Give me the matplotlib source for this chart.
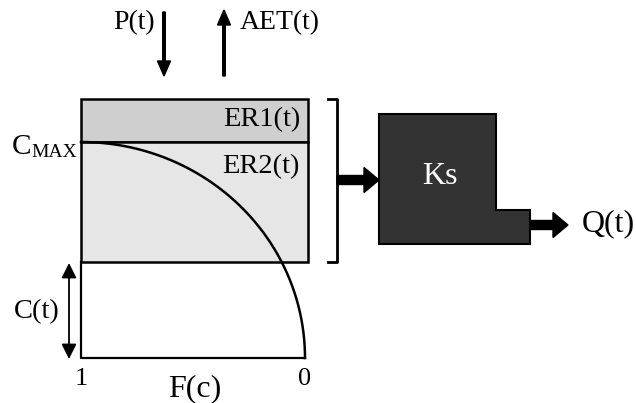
import matplotlib.pyplot as plt
import numpy as np
from matplotlib.patches import Rectangle, Polygon, FancyArrow

plt.rcParams['font.family'] = ['Liberation Serif', 'DejaVu Serif']

# Diagram labels
store_labels = ['ER1(t)', 'ER2(t)']
store_colors = ['#cfcfcf', '#e6e6e6']
input_label = 'P(t)'
output_label = 'AET(t)'
axis_ticks = ['1', '0']
axis_label = 'F(c)'
reservoir_label = 'Ks'
flow_label = 'Q(t)'

# Geometry of the storage box (pixel units)
box_left, box_right = 81, 308
box_top, cmax_y, er2_bottom, base_y = 99, 142, 262, 358
curve_right = 305

fig = plt.figure(figsize=(6.36, 4.03), dpi=100)
ax = fig.add_axes([0, 0, 1, 1])
ax.set_xlim(0, 636)
ax.set_ylim(403, 0)
ax.axis('off')

# ER1 and ER2 stores
ax.add_patch(Rectangle((box_left, box_top), box_right - box_left, cmax_y - box_top,
                       facecolor=store_colors[0], edgecolor='black', lw=1.8))
ax.add_patch(Rectangle((box_left, cmax_y), box_right - box_left, er2_bottom - cmax_y,
                       facecolor=store_colors[1], edgecolor='black', lw=1.8))
ax.text(300, 120, store_labels[0], ha='right', va='center', fontsize=20.5)
ax.text(300, 167, store_labels[1], ha='right', va='center', fontsize=20.5)

# lower frame
ax.plot([box_left, box_left, curve_right], [er2_bottom, base_y, base_y], color='black', lw=1.6)

# distribution curve (quarter ellipse)
t = np.linspace(0, np.pi / 2, 200)
cx = box_left + (curve_right - box_left) * np.sin(t)
cy = base_y - (base_y - cmax_y) * np.cos(t)
ax.plot(cx, cy, color='black', lw=1.8)

# C_MAX label
ax.text(12, 154, 'C', ha='left', va='baseline', fontsize=21)
ax.text(31, 157, 'MAX', ha='left', va='baseline', fontsize=14)

# C(t) double arrow
ax.annotate('', xy=(69, 263), xytext=(69, 359),
            arrowprops=dict(arrowstyle='<|-|>,head_length=0.9,head_width=0.45', color='black', lw=1.3,
                            shrinkA=0, shrinkB=0))
ax.text(37, 312, 'C(t)', ha='center', va='center', fontsize=20.5)

# axis ticks and label
ax.text(box_left, 379, axis_ticks[0], ha='center', va='center', fontsize=19)
ax.text(curve_right, 379, axis_ticks[1], ha='center', va='center', fontsize=19)
ax.text(195, 389, axis_label, ha='center', va='center', fontsize=23)

# precipitation / evapotranspiration arrows
ax.add_patch(FancyArrow(164, 12, 0, 64, width=2.6, head_width=13, head_length=15,
                        length_includes_head=True, color='black'))
ax.add_patch(FancyArrow(224, 76, 0, -66, width=2.6, head_width=13, head_length=15,
                        length_includes_head=True, color='black'))
ax.text(155, 23, input_label, ha='right', va='center', fontsize=20)
ax.text(240, 23, output_label, ha='left', va='center', fontsize=20)

# bracket
ax.plot([328, 337, 337, 328], [box_top, box_top, er2_bottom, er2_bottom], color='black', lw=2)

# thick arrow to reservoir
ax.add_patch(FancyArrow(337, 180, 42, 0, width=9, head_width=25, head_length=15,
                        length_includes_head=True, color='black'))

# Ks reservoir
ks_shape = [(379, 114), (496, 114), (496, 210), (530, 210), (530, 244), (379, 244)]
ax.add_patch(Polygon(ks_shape, closed=True, facecolor='#333333', edgecolor='black', lw=1.5))
ax.text(440, 176, reservoir_label, ha='center', va='center', fontsize=23, color='white')

# outflow arrow
ax.add_patch(FancyArrow(530, 225, 38, 0, width=9, head_width=25, head_length=15,
                        length_includes_head=True, color='black'))
ax.text(582, 224, flow_label, ha='left', va='center', fontsize=23)

fig.savefig('out.png', dpi=100)
